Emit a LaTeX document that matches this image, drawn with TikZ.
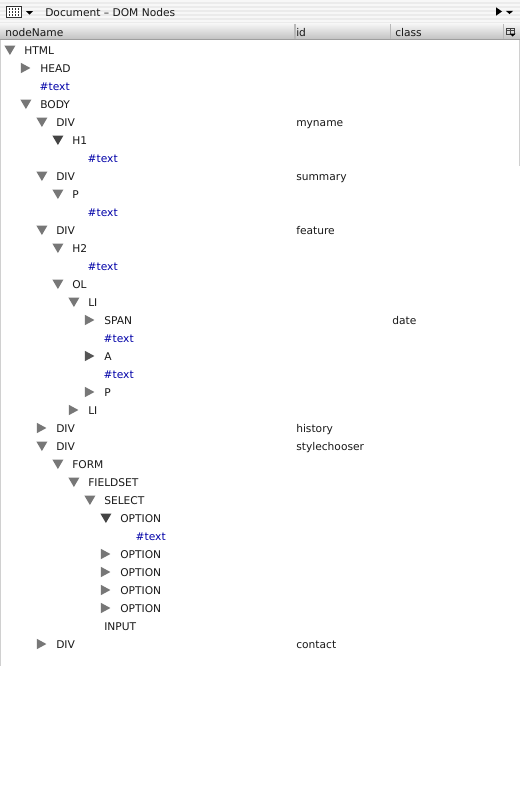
\documentclass[tikz,border=0pt]{standalone}
\usepackage{fontspec}
\setmainfont{DejaVu Sans}
\definecolor{tri}{HTML}{777777}
\definecolor{tridark}{HTML}{444444}
\definecolor{tridarkb}{HTML}{555555}
\definecolor{txtblue}{HTML}{0000A8}
\definecolor{edge}{HTML}{D0D0D0}
\newcommand{\dtri}[3][tri]{\fill[#1] (#2-19.6,#3-4.4) -- (#2-8.6,#3-4.4) -- (#2-14.1,#3+5) -- cycle;}
\newcommand{\rtri}[3][tri]{\fill[#1] (#2-19.2,#3-5.2) -- (#2-9.6,#3) -- (#2-19.2,#3+5.2) -- cycle;}
\newcommand{\rown}[4]{\node[rowtext] (#1) at (#2,#3+4) {#4};}
\tikzset{
  rowtext/.style={anchor=base west,inner sep=0pt,text=black!90,font=\fontsize{8.0}{10}\selectfont},
  hashtext/.style={rowtext,text=txtblue,xshift=-0.4pt},
  headtext/.style={rowtext,text=black!90}
}
\begin{document}
\begin{tikzpicture}[x=0.75pt,y=-0.75pt]
\useasboundingbox (0,0) rectangle (520,800);
\fill[white] (0,0) rectangle (520,800);
% title bar stripes
\fill[black!3] (0,0) rectangle (520,23);
\foreach \yy in {2,6,...,22} {\fill[black!8] (0,\yy) rectangle (520,\yy+2);}
\fill[black!42] (0,22.6) rectangle (520,23.8);
% column header
\shade[top color=black!4,bottom color=black!24] (0,23.8) rectangle (520,39);
\fill[black!38] (0,39) rectangle (520,40);
\fill[black!28] (294,24) rectangle (295.5,39);
\fill[black!28] (389.5,24) rectangle (391,39);
\fill[black!28] (502.8,24) rectangle (504.3,39);
% borders
\fill[edge] (0,40) rectangle (1.2,666);
\fill[edge] (519,40) rectangle (520,166);
% toolbar icons
\draw[black!80,line width=0.45pt,fill=white] (6.5,6.5) rectangle (21.5,17.5);
\foreach \xx in {9.5,12.5,15.5,18.5} {\foreach \yy in {9,12,15} {\fill[black!80] (\xx-.8,\yy-.8) rectangle (\xx+.8,\yy+.8);}}
\fill[black] (26,11) -- (33,11) -- (29.5,14.5) -- cycle;
\fill[black] (496,7.3) -- (502,11.5) -- (496,15.7) -- cycle;
\fill[black] (506,10.8) -- (513,10.8) -- (509.5,14.2) -- cycle;
\draw[black!75,line width=0.4pt] (506.5,28) rectangle (514.5,34) (506.5,30) -- (514.5,30) (510.5,28) -- (510.5,34);
\fill[black] (509.5,33.5) -- (515.5,33.5) -- (512.5,36.5) -- cycle;
% header text
\node[headtext] (title) at (45,16) {Document -- DOM Nodes};
\node[headtext] (hname) at (5,36) {nodeName};
\node[headtext] (hid) at (296,36) {id};
\node[headtext] (hclass) at (395,36) {class};
% tree
\dtri{24}{50}\rown{n1}{24}{50}{HTML}
\rtri{40}{68}\rown{n2}{40}{68}{HEAD}
\node[hashtext] (n3) at (40,90) {\#text};
\dtri{40}{104}\rown{n4}{40}{104}{BODY}
\dtri{56}{122}\rown{n5}{56}{122}{DIV}
\dtri[tridark]{72}{140}\rown{n6}{72}{140}{H1}
\node[hashtext] (n7) at (88,162) {\#text};
\dtri{56}{176}\rown{n8}{56}{176}{DIV}
\dtri{72}{194}\rown{n9}{72}{194}{P}
\node[hashtext] (n10) at (88,216) {\#text};
\dtri{56}{230}\rown{n11}{56}{230}{DIV}
\dtri{72}{248}\rown{n12}{72}{248}{H2}
\node[hashtext] (n13) at (88,270) {\#text};
\dtri{72}{284}\rown{n14}{72}{284}{OL}
\dtri{88}{302}\rown{n15}{88}{302}{LI}
\rtri{104}{320}\rown{n16}{104}{320}{SPAN}
\node[hashtext] (n17) at (104,342) {\#text};
\rtri[tridarkb]{104}{356}\rown{n18}{104}{356}{A}
\node[hashtext] (n19) at (104,378) {\#text};
\rtri{104}{392}\rown{n20}{104}{392}{P}
\rtri{88}{410}\rown{n21}{88}{410}{LI}
\rtri{56}{428}\rown{n22}{56}{428}{DIV}
\dtri{56}{446}\rown{n23}{56}{446}{DIV}
\dtri{72}{464}\rown{n24}{72}{464}{FORM}
\dtri{88}{482}\rown{n25}{88}{482}{FIELDSET}
\dtri{104}{500}\rown{n26}{104}{500}{SELECT}
\dtri[tridark]{120}{518}\rown{n27}{120}{518}{OPTION}
\node[hashtext] (n28) at (136,540) {\#text};
\rtri{120}{554}\rown{n29}{120}{554}{OPTION}
\rtri{120}{572}\rown{n30}{120}{572}{OPTION}
\rtri{120}{590}\rown{n31}{120}{590}{OPTION}
\rtri{120}{608}\rown{n32}{120}{608}{OPTION}
\rown{n33}{104}{626}{INPUT}
\rtri{56}{644}\rown{n34}{56}{644}{DIV}
% id / class columns
\rown{i1}{296}{122}{myname}
\rown{i2}{296}{176}{summary}
\rown{i3}{296}{230}{feature}
\rown{c1}{392}{320}{date}
\rown{i4}{296}{428}{history}
\rown{i5}{296}{446}{stylechooser}
\rown{i6}{296}{644}{contact}
\end{tikzpicture}
\end{document}
